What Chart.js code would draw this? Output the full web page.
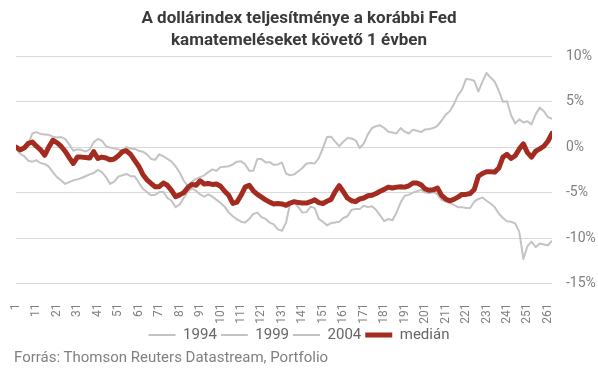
<!DOCTYPE html>
<html lang="hu">
<head>
<meta charset="utf-8">
<script src="https://cdn.jsdelivr.net/npm/chart.js@4.4.1/dist/chart.umd.min.js"></script>
<style>
  html, body { margin: 0; padding: 0; background: #fff; }
  #wrap { position: relative; width: 598px; height: 370px; }
  #source {
    position: absolute; left: 14px; top: 348px;
    font: 15px Roboto, "Noto Sans", sans-serif; line-height: 18px; color: #808080;
    white-space: nowrap;
  }
</style>
</head>
<body>
<div id="wrap">
  <canvas id="chart" width="598" height="370"></canvas>
  <div id="source"></div>
</div>
<script>
// trading days after the first hike, sampled every 2nd day
const days = [];
for (let d = 1; d <= 263; d += 2) days.push(d);

const xTicks = [1, 11, 21, 31, 41, 51, 61, 71, 81, 91, 101, 111, 121, 131,
                141, 151, 161, 171, 181, 191, 201, 211, 221, 231, 241, 251, 261];
const yTicks = [-15, -10, -5, 0, 5, 10];

const titleLines = ['A dollárindex teljesítménye a korábbi Fed', 'kamatemeléseket követő 1 évben'];
const sourceText = 'Forrás: Thomson Reuters Datastream, Portfolio';
const seriesNames = ['1994', '1999', '2004', 'medián'];

// values in %
const s1994 = [
  -0.1, -0.75, -1.0, -1.5, -1.6, -1.45, -1.75, -1.85, -2.15, -2.75,
  -3.3, -3.65, -4.05, -3.85, -3.65, -3.55, -3.4, -3.2, -3.0, -2.85,
  -2.5, -2.75, -3.3, -4.05, -3.8, -3.25, -3.1, -2.95, -3.2, -3.2,
  -3.9, -4.55, -4.95, -5.3, -5.25, -4.95, -4.9, -5.6, -5.9, -6.6,
  -6.3, -5.6, -4.9, -4.55, -4.8, -5.2, -5.45, -5.2, -5.45, -5.8,
  -6.15, -6.55, -7.2, -7.6, -7.95, -8.2, -8.3, -7.9, -7.35, -7.2,
  -7.7, -7.9, -8.3, -8.5, -9.05, -9.2, -8.3, -6.2, -6.1, -6.6,
  -7.2, -7.15, -6.55, -6.7, -7.9, -8.2, -8.6, -8.35, -8.3, -8.2,
  -7.8, -7.6, -6.9, -6.8, -6.8, -6.45, -6.6, -6.5, -6.9, -7.5,
  -8.15, -7.9, -8.05, -7.2, -6.1, -5.35, -5.25, -5.0, -4.85, -4.7,
  -5.0, -5.05, -4.95, -5.2, -5.8, -6.0, -6.15, -6.35, -6.6, -6.6,
  -6.7, -6.7, -6.0, -5.7, -5.55, -5.9, -6.2, -6.6, -7.3, -7.8,
  -8.15, -8.2, -8.4, -9.3, -12.3, -10.9, -10.4, -11.0, -10.6, -10.7,
  -10.8, -10.3
];

const s1999 = [
  -0.1, -0.15, 0.1, 0.35, 1.5, 1.65, 1.45, 1.4, 1.35, 1.15,
  1.05, 1.1, 0.9, 0.3, -0.4, -0.25, -0.3, -0.5, -0.25, 0.55,
  0.9, 0.7, 0.1, -0.05, -0.15, -0.25, -0.4, 0.0, -0.15, -0.2,
  -0.4, -0.5, -0.8, -1.3, -1.4, -0.8, -1.0, -1.3, -1.6, -2.1,
  -2.8, -3.7, -4.3, -3.8, -3.5, -3.3, -3.1, -2.75, -2.45, -2.6,
  -2.2, -2.15, -2.1, -1.9, -1.6, -1.55, -1.9, -2.6, -2.6, -1.3,
  -1.3, -1.7, -1.65, -1.95, -1.9, -1.7, -2.9, -3.1, -3.0, -2.65,
  -2.3, -1.8, -1.75, -1.8, -1.2, -0.1, 1.1, 1.15, 0.6, 0.1,
  0.6, 1.0, 0.95, 0.75, -0.1, 0.4, 1.4, 2.1, 2.3, 2.4,
  2.1, 1.7, 1.6, 1.5, 2.1, 1.7, 1.5, 1.9, 1.8, 1.65,
  1.95, 2.0, 2.1, 2.35, 2.9, 3.55, 3.95, 4.7, 5.7, 6.3,
  7.5, 7.45, 7.3, 6.1, 7.2, 8.15, 7.65, 7.2, 6.2, 5.0,
  5.05, 3.5, 2.6, 3.05, 2.7, 2.85, 2.5, 3.6, 4.35, 3.95,
  3.3, 3.1
];

const median = [
  0.0, -0.3, -0.1, 0.4, 0.55, 0.1, -0.3, -0.9, 0.0, 0.75,
  0.5, 0.1, -0.45, -1.15, -1.8, -1.1, -1.1, -1.15, -1.2, -0.5,
  -1.25, -1.1, -1.2, -1.4, -1.3, -0.95, -0.5, -0.4, -0.8, -1.45,
  -2.1, -3.0, -3.6, -4.0, -4.35, -4.35, -3.95, -4.2, -4.75, -5.45,
  -5.25, -5.0, -4.45, -4.1, -4.2, -3.7, -4.05, -4.0, -4.1, -4.05,
  -4.3, -4.85, -5.3, -6.2, -6.05, -5.3, -4.4, -4.2, -4.8, -5.2,
  -5.5, -5.8, -6.05, -6.25, -6.2, -6.25, -6.4, -6.15, -6.0, -6.1,
  -6.15, -6.15, -6.0, -5.8, -6.1, -6.2, -5.95, -5.75, -4.9, -4.25,
  -4.9, -5.6, -5.9, -6.0, -5.7, -5.6, -5.35, -5.3, -5.1, -4.85,
  -4.65, -4.4, -4.5, -4.4, -4.35, -4.4, -4.25, -3.95, -3.95, -4.15,
  -4.6, -4.75, -4.7, -4.5, -5.3, -5.7, -5.9, -5.75, -5.5, -5.2,
  -5.2, -5.1, -4.65, -3.2, -2.9, -2.7, -2.7, -2.75, -2.3, -1.1,
  -0.8, -1.25, -0.95, -0.2, 0.35, -0.6, -1.1, -0.45, -0.2, 0.1,
  0.65, 1.5
];

// the middle year runs under the median line
const s2004 = median;

const grey = '#c3c3c3';
const red = '#a32b1f';

function toPoints(values) {
    return values.map((v, i) => ({ x: days[i], y: v }));
}

document.getElementById('source').textContent = sourceText;

Chart.defaults.font.family = 'Roboto, "Noto Sans", sans-serif';

const ctx = document.getElementById('chart').getContext('2d');
new Chart(ctx, {
    type: 'line',
    data: {
        datasets: [
            { label: seriesNames[0], data: toPoints(s1994), borderColor: grey, borderWidth: 2 },
            { label: seriesNames[1], data: toPoints(s1999), borderColor: grey, borderWidth: 2 },
            { label: seriesNames[2], data: toPoints(s2004), borderColor: grey, borderWidth: 2 },
            { label: seriesNames[3], data: toPoints(median), borderColor: red, borderWidth: 5, order: -1,
              borderCapStyle: 'round' }
        ]
    },
    options: {
        responsive: false,
        animation: false,
        elements: {
            point: { radius: 0 },
            line: { tension: 0, fill: false, borderJoinStyle: 'round' }
        },
        layout: { padding: { left: 0, right: 0, top: 0, bottom: 17.5 } },
        scales: {
            x: {
                type: 'linear',
                min: 1,
                max: 263,
                afterBuildTicks: axis => { axis.ticks = xTicks.map(v => ({ value: v })); },
                afterFit: axis => { axis.height = 40; },
                ticks: {
                    autoSkip: false,
                    maxRotation: 90,
                    minRotation: 90,
                    color: '#808080',
                    font: { size: 12 },
                    padding: 12
                },
                grid: { display: false },
                border: { display: false }
            },
            y: {
                position: 'right',
                min: -15,
                max: 10,
                afterBuildTicks: axis => { axis.ticks = yTicks.map(v => ({ value: v })); },
                afterFit: axis => { axis.width = 46; },
                ticks: {
                    color: '#808080',
                    font: { size: 14 },
                    padding: 14,
                    callback: v => v + '%'
                },
                grid: { color: '#d9d9d9', drawTicks: false },
                border: { display: false }
            },
            // empty strip on the left so the plot starts 16px in
            gutter: {
                type: 'linear',
                position: 'left',
                afterFit: axis => { axis.width = 16; },
                ticks: { display: false },
                grid: { display: false },
                border: { display: false }
            }
        },
        plugins: {
            title: {
                display: true,
                text: titleLines,
                color: '#3a3a3a',
                font: { family: 'Roboto', size: 17, weight: 'bold', lineHeight: 1.3 },
                padding: { top: 8, bottom: 4 }
            },
            legend: {
                position: 'bottom',
                labels: {
                    usePointStyle: true,
                    pointStyle: 'line',
                    pointStyleWidth: 27,
                    color: '#666666',
                    font: { size: 15 },
                    padding: 4,
                    sort: (a, b) => a.datasetIndex - b.datasetIndex
                }
            },
            tooltip: { enabled: false }
        }
    }
});
</script>
</body>
</html>
